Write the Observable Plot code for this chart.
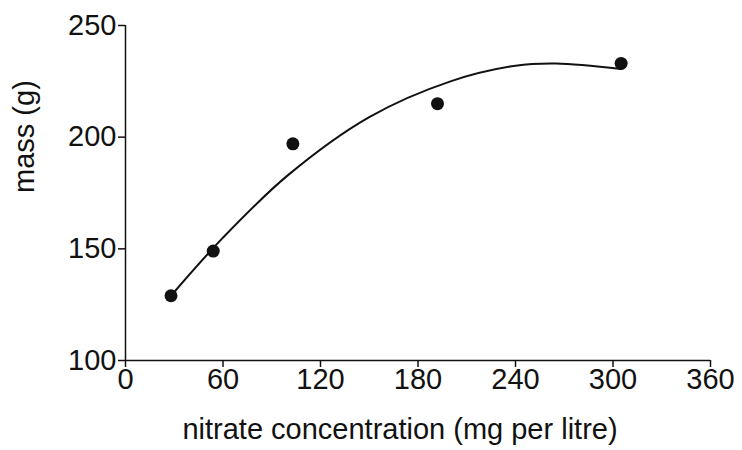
<!DOCTYPE html>
<html>
<head>
<meta charset="utf-8">
<script src="https://cdn.jsdelivr.net/npm/d3@7"></script>
<script src="https://cdn.jsdelivr.net/npm/@observablehq/plot@0.6"></script>
<style>
  body { margin: 0; background: #fff; }
</style>
</head>
<body>
<div id="chart"></div>
<script>
// measured points
const nitrate = [28, 54, 103, 192, 305]
const mass = [129, 149, 197, 215, 233]

// fitted curve
const curveX = [28, 60, 100, 150, 200, 240, 265, 305]
const curveY = [129, 155, 183, 209, 225, 232, 233, 230.5]

const xTicks = [0, 60, 120, 180, 240, 300, 360]
const yTicks = [100, 150, 200, 250]

const points = nitrate.map((x, i) => ({x, y: mass[i]}))
const curve = curveX.map((x, i) => ({x, y: curveY[i]}))

let chart = Plot.plot({
  width: 742,
  height: 450,
  marginLeft: 125,
  marginRight: 32,
  marginTop: 25,
  marginBottom: 90,
  style: {color: "#111", fontSize: "29px", fontFamily: "Liberation Sans, Arial, sans-serif"},
  x: {domain: [0, 360]},
  y: {domain: [100, 250]},
  marks: [
    Plot.ruleY([100], {x1: 0, x2: 360, stroke: "#111", strokeWidth: 1.5}),
    Plot.ruleX([0], {y1: 100, y2: 250, stroke: "#111", strokeWidth: 1.5}),
    Plot.axisX({ticks: xTicks, tickSize: 7, tickPadding: 1, label: null, strokeWidth: 1.5, fontSize: 29}),
    Plot.axisY({ticks: yTicks, tickSize: 7, tickPadding: 2, label: null, strokeWidth: 1.5, fontSize: 29}),
    Plot.text(["nitrate concentration (mg per litre)"], {frameAnchor: "bottom", dx: -18, dy: 78, fontSize: 29}),
    Plot.text(["mass (g)"], {frameAnchor: "left", dx: -101, dy: 0, rotate: -90, fontSize: 29}),
    Plot.line(curve, {x: "x", y: "y", curve: "catmull-rom", stroke: "#111", strokeWidth: 2}),
    Plot.dot(points, {x: "x", y: "y", r: 6.5, fill: "#111"})
  ]
})

d3.select('#chart').append(() => chart)
</script>
</body>
</html>
